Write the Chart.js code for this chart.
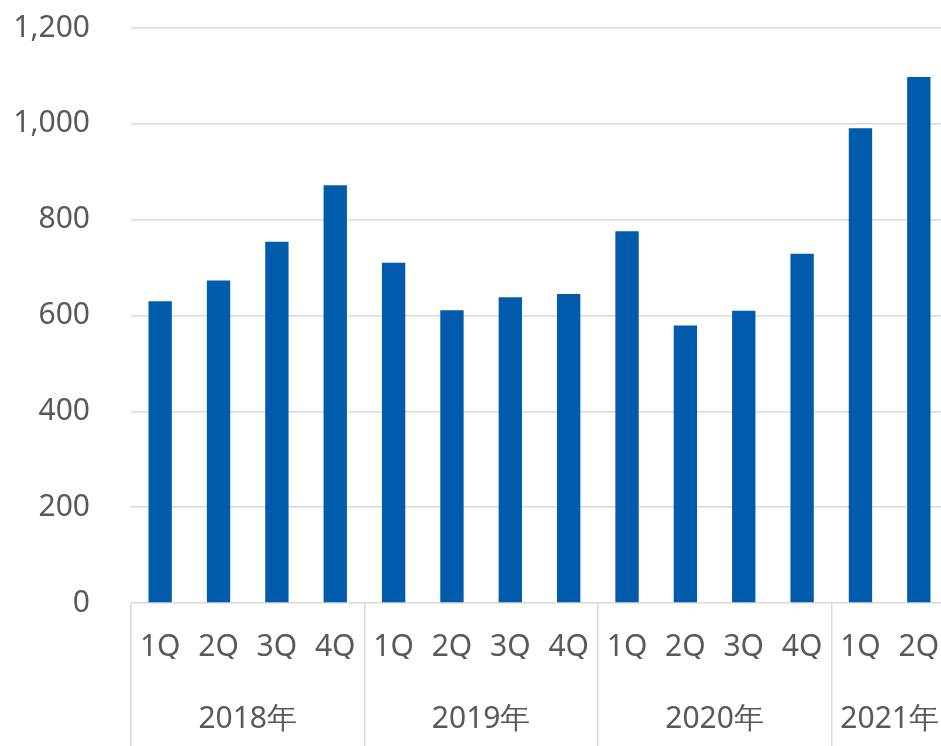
<!DOCTYPE html>
<html>
<head>
<meta charset="utf-8">
<script src="https://cdn.jsdelivr.net/npm/chart.js@4"></script>
<style>
html,body{margin:0;padding:0;background:#fff;overflow:hidden;}
#wrap{position:relative;width:948px;height:746px;}
</style>
</head>
<body>
<div id="wrap"><canvas id="c"></canvas></div>
<script>
const quarters = ['1Q','2Q','3Q','4Q','1Q','2Q','3Q','4Q','1Q','2Q','3Q','4Q','1Q','2Q'];
const years = ['2018年','2019年','2020年','2021年'];
const yearCenters = [1.5, 5.5, 9.5, 12.5];
const yearBoundaries = [0, 4, 8, 12];
const values = [630, 673, 754, 872, 710, 611, 638, 645, 776, 579, 610, 729, 991, 1098];
const yTicks = [0, 200, 400, 600, 800, 1000, 1200];

const FONT = {family: "'Noto Sans', sans-serif", size: 30};
const TEXT = '#595959';
const GRID = '#d9d9d9';

function noPad(s) { s.paddingTop = 0; s.paddingBottom = 0; s.paddingLeft = 0; s.paddingRight = 0; }

new Chart(document.getElementById('c'), {
  type: 'bar',
  data: {
    labels: quarters,
    datasets: [{
      data: values,
      backgroundColor: '#005BAC',
      borderWidth: 0,
      barPercentage: 0.4,
      categoryPercentage: 1.0
    }]
  },
  options: {
    responsive: true,
    maintainAspectRatio: false,
    animation: false,
    layout: {padding: {top: 28, left: 0, right: 0, bottom: 0}},
    plugins: {legend: {display: false}, tooltip: {enabled: false}},
    scales: {
      y: {
        min: 0, max: 1200,
        afterBuildTicks: s => { s.ticks = yTicks.map(v => ({value: v})); },
        afterFit: s => { s.width = 131; noPad(s); },
        border: {display: false},
        grid: {color: GRID, lineWidth: 1.5, drawTicks: false},
        ticks: {
          padding: 41, color: TEXT, font: FONT,
          callback: v => v.toLocaleString('en-US')
        }
      },
      x: {
        type: 'category',
        position: 'bottom',
        afterFit: s => { s.height = 56; noPad(s); },
        border: {display: false},
        grid: {
          offset: true,
          drawOnChartArea: false,
          drawTicks: true,
          tickLength: 146,
          lineWidth: 1.5,
          color: ctx => yearBoundaries.includes(ctx.index) ? GRID : 'rgba(0,0,0,0)'
        },
        ticks: {
          padding: -120, color: TEXT, font: FONT,
          autoSkip: false, maxRotation: 0
        }
      },
      x2: {
        type: 'linear',
        position: 'bottom',
        offset: false,
        min: -0.5, max: 13.5,
        afterBuildTicks: s => { s.ticks = yearCenters.map(v => ({value: v})); },
        afterFit: s => { s.height = 87; noPad(s); },
        border: {display: false},
        grid: {display: false, drawTicks: false, offset: false},
        ticks: {
          padding: 42, color: TEXT, font: FONT,
          autoSkip: false, maxRotation: 0,
          callback: v => { const i = yearCenters.indexOf(v); return i >= 0 ? years[i] : ''; }
        }
      }
    }
  }
});
</script>
</body>
</html>
